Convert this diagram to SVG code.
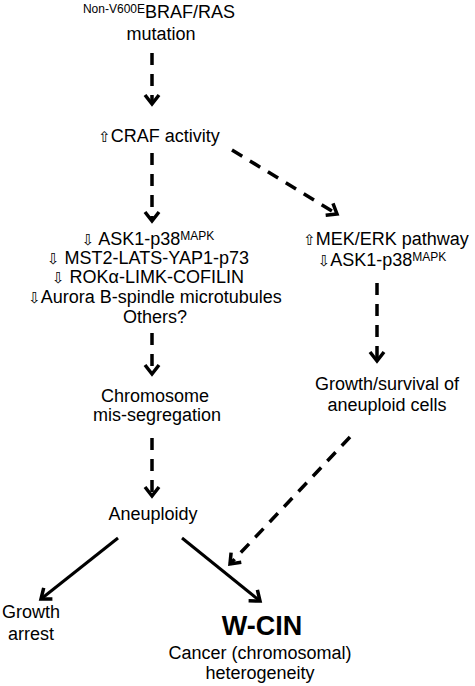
<svg xmlns="http://www.w3.org/2000/svg" width="475" height="686" viewBox="0 0 475 686">
<defs>
<style>
text{font-family:"Liberation Sans","DejaVu Sans",Arial,sans-serif;font-size:18px;fill:#000;text-anchor:middle}
.sup{font-size:12px}
.big{font-size:27px;font-weight:bold}
.ar{font-family:"DejaVu Sans",sans-serif;font-size:15px}
.d{stroke:#000;stroke-width:3.5;fill:none;stroke-dasharray:12 9}
.s{stroke:#000;stroke-width:3;fill:none}
</style>
<marker id="ah" markerUnits="userSpaceOnUse" markerWidth="20" markerHeight="20" viewBox="-12 -10 14 20" refX="0" refY="0" orient="auto">
<path d="M-9,-7 L0,0 L-9,7" fill="none" stroke="#000" stroke-width="3.5"/>
</marker>
</defs>
<g id="n-braf"><text x="159" y="18"><tspan class="sup" dy="-5">Non-V600E</tspan><tspan dy="5">BRAF/RAS</tspan></text><text x="161" y="40">mutation</text></g>
<g id="n-craf"><text x="159" y="142"><tspan class="ar">⇧</tspan>CRAF activity</text></g>
<g id="n-list">
<text x="148" y="245"><tspan class="ar">⇩</tspan> ASK1-p38<tspan class="sup" dy="-5">MAPK</tspan></text>
<text x="148" y="264"><tspan class="ar">⇩</tspan> MST2-LATS-YAP1-p73</text>
<text x="148" y="283"><tspan class="ar">⇩</tspan> ROKα-LIMK-COFILIN</text>
<text x="155" y="303"><tspan class="ar">⇩</tspan>Aurora B-spindle microtubules</text>
<text x="155" y="323">Others?</text>
</g>
<g id="n-mek">
<text x="386" y="245"><tspan class="ar">⇧</tspan>MEK/ERK pathway</text>
<text x="382" y="266"><tspan class="ar">⇩</tspan>ASK1-p38<tspan class="sup" dy="-5">MAPK</tspan></text>
</g>
<g id="n-chrom"><text x="155" y="402">Chromosome</text><text x="157" y="421">mis-segregation</text></g>
<g id="n-growth-survival"><text x="387" y="390">Growth/survival of</text><text x="387" y="411">aneuploid cells</text></g>
<g id="n-aneu"><text x="153" y="520">Aneuploidy</text></g>
<g id="n-arrest"><text x="31" y="618">Growth</text><text x="31" y="640">arrest</text></g>
<g id="n-wcin"><text class="big" x="262" y="635">W-CIN</text><text x="260" y="659">Cancer (chromosomal)</text><text x="260" y="679">heterogeneity</text></g>
<g id="connectors">
<line class="d" x1="152" y1="53" x2="152" y2="104" marker-end="url(#ah)"/>
<line class="d" x1="152" y1="153" x2="152" y2="221" marker-end="url(#ah)"/>
<line class="d" x1="232" y1="150" x2="337" y2="214" marker-end="url(#ah)"/>
<line class="d" x1="152" y1="333" x2="152" y2="374" marker-end="url(#ah)"/>
<line class="d" x1="152" y1="438" x2="152" y2="496" marker-end="url(#ah)"/>
<line class="d" x1="377" y1="283" x2="377" y2="361" marker-end="url(#ah)"/>
<line class="d" x1="350" y1="437" x2="230" y2="564" marker-end="url(#ah)"/>
<line class="s" x1="118" y1="538" x2="41" y2="599" marker-end="url(#ah)"/>
<line class="s" x1="182" y1="538" x2="260" y2="601" marker-end="url(#ah)"/>
</g>
</svg>
